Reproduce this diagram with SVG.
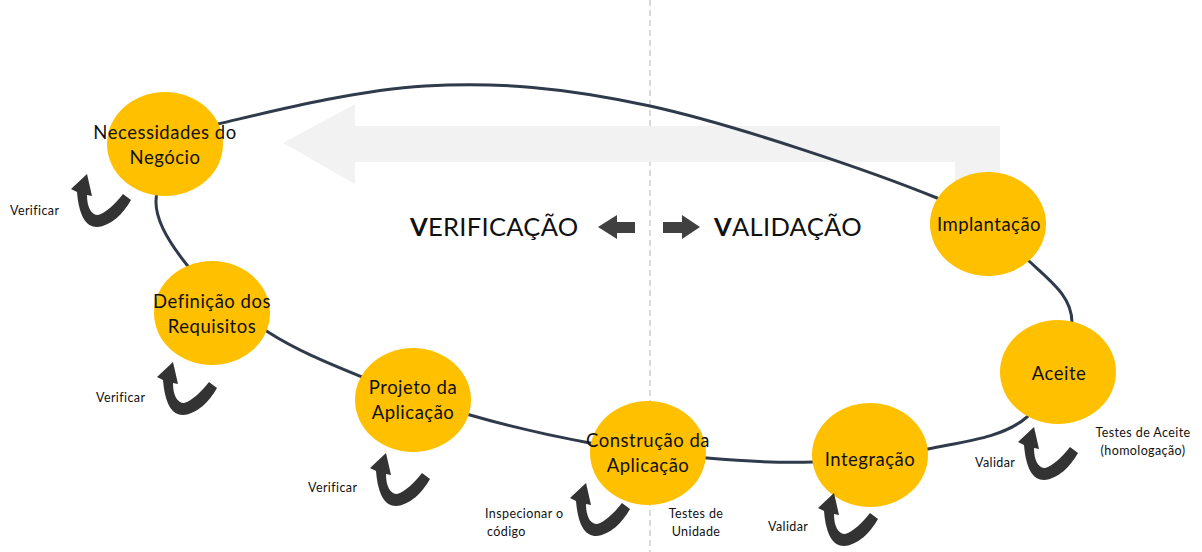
<svg xmlns="http://www.w3.org/2000/svg" xmlns:xlink="http://www.w3.org/1999/xlink" width="1202" height="552" viewBox="0 0 1202 552">
<style>
.node ellipse{fill:#FFC000;}
.nt{font-family:Lato,"Open Sans",sans-serif;font-size:18.5px;fill:#111;text-anchor:middle;letter-spacing:0.5px;}
.lbl{font-family:Lato,"Open Sans",sans-serif;font-size:12.5px;fill:#111;letter-spacing:0.4px;}
.mid{text-anchor:middle;}
.title{font-family:Lato,"Open Sans",sans-serif;font-size:25.5px;fill:#111;letter-spacing:0.3px;}
.curl{fill:#333333;}
</style>
<defs>
<path id="curl" d="M0,0 L5,22 L0,21 C0,33 4,41 11,41 C19,39 28,30 36,20 L44,26 C36,40 24,52 10,53 C-1,53 -8,42 -10,18 L-16,15 Z"/>
</defs>
<rect width="1202" height="552" fill="#fff"/>
<line x1="650" y1="0" x2="650" y2="552" stroke="#b5b5b5" stroke-width="1" stroke-dasharray="6,4"/>
<polygon points="283,143 355,104 355,126 1000,126 1000,195 955,195 955,162 355,162 355,184" fill="#F2F2F2"/>
<g id="connectors">
<path d="M218,124 C264.7,113.2 353.3,90.2 425,86 C496.7,81.8 564.7,87.3 650,106 C735.3,124.7 873.8,172.2 937,198 C1000.2,223.8 1006.5,240.2 1029,261 C1051.5,281.8 1072.3,297 1072,323 C1071.7,349 1051,396 1027,417 C1003,438 963.7,441.5 928,449 C892.3,456.5 849.8,460.5 813,462 C776.2,463.5 744.2,461.2 707,458 C669.8,454.8 629.5,450.2 590,443 C550.5,435.8 508,426 470,415 C432,404 395.7,390.8 362,377 C328.3,363.2 297.2,350.7 268,332 C238.8,313.3 205.5,288.2 187,265 C168.5,241.8 151.5,215.3 157,193 C162.5,170.7 175.3,148.8 218,124 Z" fill="none" stroke="#2F3A4B" stroke-width="3"/>
</g>
<g id="center-labels">
<text class="title" x="410" y="236"><tspan font-weight="bold">V</tspan>ERIFICAÇÃO</text>
<polygon points="598,227 617,215 617,222 635,222 635,233 617,233 617,239" fill="#404040"/>
<polygon points="663,222 682,222 682,215 700,227 682,239 682,233 663,233" fill="#404040"/>
<text class="title" x="714" y="236"><tspan font-weight="bold">V</tspan>ALIDAÇÃO</text>
</g>
<g id="node-necessidades" class="node">
<ellipse cx="165" cy="144" rx="58" ry="52"/>
<text class="nt" x="165" y="139">Necessidades do</text>
<text class="nt" x="165" y="164">Negócio</text>
<use xlink:href="#curl" href="#curl" x="87" y="174" class="curl"/>
<text class="lbl" x="10" y="215">Verificar</text>
</g>
<g id="node-definicao" class="node">
<ellipse cx="212" cy="313" rx="58" ry="52"/>
<text class="nt" x="212" y="308">Definição dos</text>
<text class="nt" x="212" y="333">Requisitos</text>
<use xlink:href="#curl" href="#curl" x="173" y="362" class="curl"/>
<text class="lbl" x="96" y="402">Verificar</text>
</g>
<g id="node-projeto" class="node">
<ellipse cx="413" cy="400" rx="58" ry="52"/>
<text class="nt" x="413" y="394">Projeto da</text>
<text class="nt" x="413" y="419">Aplicação</text>
<use xlink:href="#curl" href="#curl" x="386" y="453" class="curl"/>
<text class="lbl" x="308" y="492">Verificar</text>
</g>
<g id="node-construcao" class="node">
<ellipse cx="648" cy="453" rx="58" ry="52"/>
<text class="nt" x="648" y="447">Construção da</text>
<text class="nt" x="648" y="472">Aplicação</text>
<use xlink:href="#curl" href="#curl" x="586" y="483" class="curl"/>
<text class="lbl" x="485" y="518">Inspecionar o</text>
<text class="lbl" x="487" y="536">código</text>
<text class="lbl mid" x="696" y="518">Testes de</text>
<text class="lbl mid" x="696" y="536">Unidade</text>
</g>
<g id="node-integracao" class="node">
<ellipse cx="870" cy="455" rx="58" ry="52"/>
<text class="nt" x="870" y="466">Integração</text>
<use xlink:href="#curl" href="#curl" x="834" y="493" class="curl"/>
<text class="lbl" x="768" y="531">Validar</text>
</g>
<g id="node-aceite" class="node">
<ellipse cx="1058" cy="372" rx="58" ry="52"/>
<text class="nt" x="1059" y="380">Aceite</text>
<use xlink:href="#curl" href="#curl" x="1034" y="427" class="curl"/>
<text class="lbl" x="975" y="467">Validar</text>
<text class="lbl mid" x="1143" y="437">Testes de Aceite</text>
<text class="lbl mid" x="1143" y="455">(homologação)</text>
</g>
<g id="node-implantacao" class="node">
<ellipse cx="988" cy="224" rx="58" ry="52"/>
<text class="nt" x="989" y="231">Implantação</text>
</g>
</svg>
